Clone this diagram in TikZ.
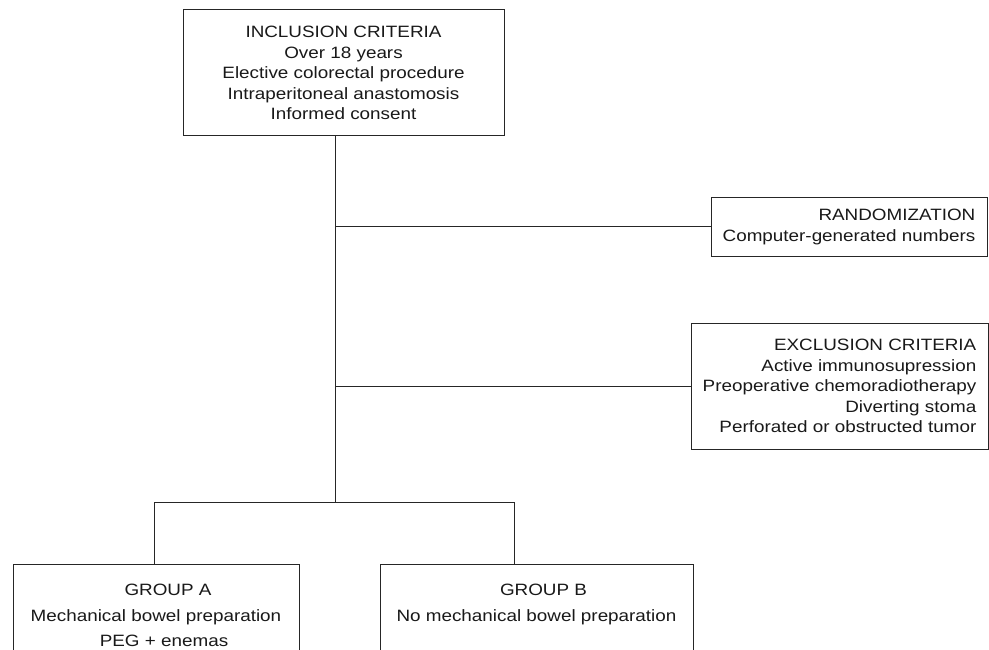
\documentclass[tikz,border=0pt]{standalone}
\usepackage{fontspec}
\setmainfont{Liberation Sans}[FakeStretch=1.15]
\begin{document}
\begin{tikzpicture}[x=1pt,y=-1pt,
  box/.style={draw=black!85, line width=1pt, inner sep=0pt, text=black!90},
  ctext/.style={font=\fontsize{16.4}{20.6}\selectfont, align=center},
  rtext/.style={font=\fontsize{16.4}{20.6}\selectfont, align=right},
  gtext/.style={font=\fontsize{16.4}{25.5}\selectfont, align=center},
  conn/.style={draw=black!85, line width=1pt}]
\clip (0,0) rectangle (989,650);
\fill[white] (0,0) rectangle (989,650);
\node[box, ctext, minimum width=321pt, minimum height=126pt] (incl) at (343.5,73)
  {INCLUSION CRITERIA\\Over 18 years\\Elective colorectal procedure\\Intraperitoneal anastomosis\\Informed consent};
\node[box, rtext, minimum width=276pt, minimum height=58pt] (rand) at (849,227)
  {RANDOMIZATION\\Computer-generated numbers};
\node[box, rtext, minimum width=297pt, minimum height=126pt] (excl) at (839.5,386)
  {EXCLUSION CRITERIA\\Active immunosupression\\Preoperative chemoradiotherapy\\Diverting stoma\\Perforated or obstructed tumor};
\node[box, gtext, minimum width=286pt, minimum height=103pt] (grpA) at (156,615.5)
  {\hspace*{24pt}GROUP A\\Mechanical bowel preparation\\\hspace*{16pt}PEG + enemas};
\node[box, gtext, minimum width=313pt, minimum height=103pt] (grpB) at (536.5,615.5)
  {\hspace*{14pt}GROUP B\\No mechanical bowel preparation\\\phantom{PEG + enemas}};
\coordinate (j) at (335,502);
\coordinate (ja) at (154,502);
\coordinate (jb) at (514,502);
\draw[conn] (incl.south -| j) -- (j);
\draw[conn] (j |- rand.west) -- (rand.west);
\draw[conn] (j |- excl.west) -- (excl.west);
\draw[conn] (ja) -- (jb);
\draw[conn] (ja) -- (ja |- grpA.north);
\draw[conn] (jb) -- (jb |- grpB.north);
\end{tikzpicture}
\end{document}
